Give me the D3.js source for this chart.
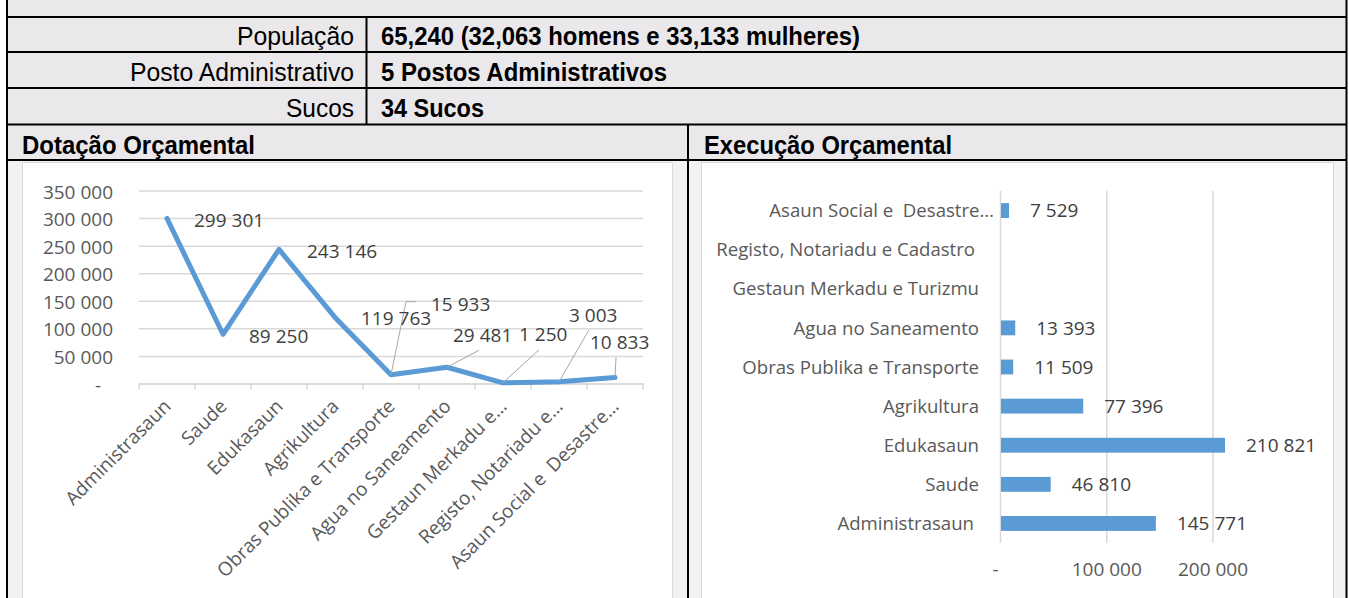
<!DOCTYPE html>
<html>
<head>
<meta charset="utf-8">
<script src="https://cdn.jsdelivr.net/npm/d3@7"></script>
<style>
body { margin: 0; background: #fff; }
svg text { font-family: "Open Sans", sans-serif; }
.tbl { font-family: "Liberation Sans Narrow", "Arial Narrow", "Liberation Sans", sans-serif; font-size: 25px; fill: #000; }
.bold { font-weight: bold; }
.tick text { font-size: 19px; fill: #595959; }
.dlabel { font-size: 19px; fill: #404040; }
.catlabel { font-size: 18.6px; fill: #595959; white-space: pre; }
</style>
</head>
<body>
<div id="chart"></div>
<script>
let w = 1349
let h = 598

// data
let categories = ["Administrasaun", "Saude", "Edukasaun", "Agrikultura", "Obras Publika e Transporte",
	"Agua no Saneamento", "Gestaun Merkadu e Turizmu", "Registo, Notariadu e Cadastro", "Asaun Social e  Desastre…"]
let lineLabels = ["Administrasaun", "Saude", "Edukasaun", "Agrikultura", "Obras Publika e Transporte",
	"Agua no Saneamento", "Gestaun Merkadu e…", "Registo, Notariadu e…", "Asaun Social e  Desastre…"]
let dotacao = [299301, 89250, 243146, 119763, 15933, 29481, 1250, 3003, 10833]
let execucao = [145771, 46810, 210821, 77396, 11509, 13393, null, null, 7529]
let leftTicks = [0, 50000, 100000, 150000, 200000, 250000, 300000, 350000]
let rightTicks = [0, 100000, 200000]
let infoLabels = ["População", "Posto Administrativo", "Sucos"]
let infoValues = ["65,240 (32,063 homens e 33,133 mulheres)", "5 Postos Administrativos", "34 Sucos"]
let sectionTitles = ["Dotação Orçamental", "Execução Orçamental"]

// text widths in the table (the original uses a narrow font)
let infoLabelWidths = [117, 224, 68]
let infoValueWidths = [479, 286, 103]
let titleWidths = [233, 248]

// label placement (Excel moved some labels by hand)
let lineLabelOffsets = [[27, 2], [26, 2], [28, 2], [26, 1], [40, -71], [6, -32], [16, -49], [10, -67], [-25, -35]]
let leaderPts = [null, null, null, null, [[15, -73], [25, -73]], [[32, -17]], [[36, -33]], [[30, -52]], [[1, -20]]]
let barLabelShift = [-5, 0, 0, 0, 0, 0, 0, -4, 15]

let loc = d3.formatLocale({decimal: ",", thousands: " ", grouping: [3], currency: ["", ""]})
let fmt = v => v === 0 ? "-" : loc.format(",")(v)

let svg = d3.select("#chart").append("svg")
	.attr("width", w)
	.attr("height", h)

// table background
svg.append("rect").attr("x", 7).attr("y", 0).attr("width", 1339).attr("height", 161).attr("fill", "#eae8eb")
svg.append("rect").attr("x", 7).attr("y", 161).attr("width", 681).attr("height", 437).attr("fill", "#f2f2f2")
svg.append("rect").attr("x", 688).attr("y", 161).attr("width", 658).attr("height", 437).attr("fill", "#f2f2f2")
svg.append("rect").attr("x", 22.5).attr("y", 162.5).attr("width", 650).attr("height", 450)
	.attr("fill", "#fff").attr("stroke", "#d9d9d9")
svg.append("rect").attr("x", 701.5).attr("y", 162.5).attr("width", 632).attr("height", 450)
	.attr("fill", "#fff").attr("stroke", "#d9d9d9")

// table text
let rowBase = [45, 81, 117]
infoLabels.forEach((t, i) => {
	svg.append("text").attr("class", "tbl").attr("x", 354).attr("y", rowBase[i])
		.attr("text-anchor", "end")
		.attr("textLength", infoLabelWidths[i]).attr("lengthAdjust", "spacingAndGlyphs")
		.text(t)
	svg.append("text").attr("class", "tbl bold").attr("x", 381).attr("y", rowBase[i])
		.attr("textLength", infoValueWidths[i]).attr("lengthAdjust", "spacingAndGlyphs")
		.text(infoValues[i])
})
svg.append("text").attr("class", "tbl bold").attr("x", 22).attr("y", 154)
	.attr("textLength", titleWidths[0]).attr("lengthAdjust", "spacingAndGlyphs").text(sectionTitles[0])
svg.append("text").attr("class", "tbl bold").attr("x", 704).attr("y", 154)
	.attr("textLength", titleWidths[1]).attr("lengthAdjust", "spacingAndGlyphs").text(sectionTitles[1])

// table borders
let hLines = [17, 52, 88, 124.5, 160]
hLines.forEach(yy => svg.append("line").attr("x1", 6).attr("x2", 1347).attr("y1", yy).attr("y2", yy)
	.attr("stroke", "#000").attr("stroke-width", 2))
svg.append("line").attr("x1", 7).attr("x2", 7).attr("y1", 0).attr("y2", h).attr("stroke", "#000").attr("stroke-width", 2)
svg.append("line").attr("x1", 1346.5).attr("x2", 1346.5).attr("y1", 0).attr("y2", h).attr("stroke", "#000").attr("stroke-width", 2)
svg.append("line").attr("x1", 366.5).attr("x2", 366.5).attr("y1", 17).attr("y2", 124.5).attr("stroke", "#000").attr("stroke-width", 2)
svg.append("line").attr("x1", 688).attr("x2", 688).attr("y1", 124.5).attr("y2", h).attr("stroke", "#000").attr("stroke-width", 2)

// ---------- line chart (Dotação) ----------
let x = d3.scaleBand().domain(categories).range([139, 643])
let y = d3.scaleLinear().domain([0, 350000]).range([383.5, 190.5])
let cx = d => x(d) + x.bandwidth() / 2

let yAxis = d3.axisLeft(y).tickValues(leftTicks).tickSize(-(643 - 139)).tickPadding(26).tickFormat(fmt)
let gy = svg.append("g").attr("transform", "translate(139,0)").call(yAxis)
gy.select(".domain").remove()
gy.selectAll(".tick line").attr("stroke", "#d9d9d9").attr("stroke-width", 1.5)
gy.selectAll(".tick text").attr("dx", d => d === 0 ? -12 : 0).attr("dy", "0.4em")

let xAxis = d3.axisBottom(x).tickSize(0).tickFormat((d, i) => lineLabels[i])
let gx = svg.append("g").attr("transform", "translate(0," + y(0) + ")").call(xAxis)
gx.select(".domain").attr("stroke", "#d9d9d9").attr("stroke-width", 1.5)
gx.selectAll(".tick text")
	.attr("x", 0).attr("y", 0).attr("dy", 0)
	.attr("text-anchor", "end")
	.style("white-space", "pre")
	.attr("transform", "translate(5,24) rotate(-45)")

// tick marks between categories
svg.append("g").selectAll("line")
	.data(d3.range(categories.length + 1))
	.join("line")
	.attr("x1", i => x.range()[0] + i * x.step())
	.attr("x2", i => x.range()[0] + i * x.step())
	.attr("y1", y(0))
	.attr("y2", y(0) + 6)
	.attr("stroke", "#d9d9d9").attr("stroke-width", 1.5)

let line = d3.line()
	.x((d, i) => cx(categories[i]))
	.y(d => y(d))

svg.append("path")
	.datum(dotacao)
	.attr("fill", "none")
	.attr("stroke", "#5b9bd5")
	.attr("stroke-width", 5)
	.attr("stroke-linejoin", "round")
	.attr("stroke-linecap", "round")
	.attr("d", line)

// leader lines
dotacao.forEach((v, i) => {
	if (!leaderPts[i]) return
	let px = cx(categories[i]), py = y(v)
	let pts = [[px, py]].concat(leaderPts[i].map(p => [px + p[0], py + p[1]]))
	svg.append("path").attr("d", d3.line()(pts)).attr("fill", "none")
		.attr("stroke", "#a6a6a6").attr("stroke-width", 1)
})

svg.append("g").selectAll("text")
	.data(dotacao)
	.join("text")
	.attr("class", "dlabel")
	.attr("x", (d, i) => cx(categories[i]) + lineLabelOffsets[i][0])
	.attr("y", (d, i) => y(d) + lineLabelOffsets[i][1])
	.attr("dy", "0.36em")
	.text(d => fmt(d))

// ---------- bar chart (Execução) ----------
let yb = d3.scaleBand().domain(categories.slice().reverse()).range([191, 543])
	.paddingInner(0.62).paddingOuter(0.31)
let xb = d3.scaleLinear().domain([0, 200000]).range([1000, 1212.5])

let xbAxis = d3.axisBottom(xb).tickValues(rightTicks).tickSize(-(543 - 191)).tickPadding(20).tickFormat(fmt)
let gxb = svg.append("g").attr("transform", "translate(0,543)").call(xbAxis)
gxb.select(".domain").remove()
gxb.selectAll(".tick line").attr("stroke", "#d9d9d9").attr("stroke-width", 1.5)
gxb.selectAll(".tick text").attr("dx", d => d === 0 ? -5 : 0)

svg.append("g").selectAll("rect")
	.data(execucao)
	.join("rect")
	.attr("x", xb(0) + 1)
	.attr("y", (d, i) => yb(categories[i]))
	.attr("width", d => d ? xb(d) - xb(0) : 0)
	.attr("height", yb.bandwidth())
	.attr("fill", "#5b9bd5")

svg.append("g").selectAll("text")
	.data(execucao)
	.join("text")
	.attr("class", "dlabel")
	.attr("x", d => xb(d || 0) + 22)
	.attr("y", (d, i) => yb(categories[i]) + yb.bandwidth() / 2)
	.attr("dy", "0.36em")
	.text(d => d ? fmt(d) : "")

svg.append("g").selectAll("text")
	.data(categories)
	.join("text")
	.attr("class", "catlabel")
	.attr("text-anchor", "end")
	.attr("x", (d, i) => 979 + barLabelShift[i])
	.attr("y", d => yb(d) + yb.bandwidth() / 2)
	.attr("dy", "0.36em")
	.text(d => d)
</script>
</body>
</html>
